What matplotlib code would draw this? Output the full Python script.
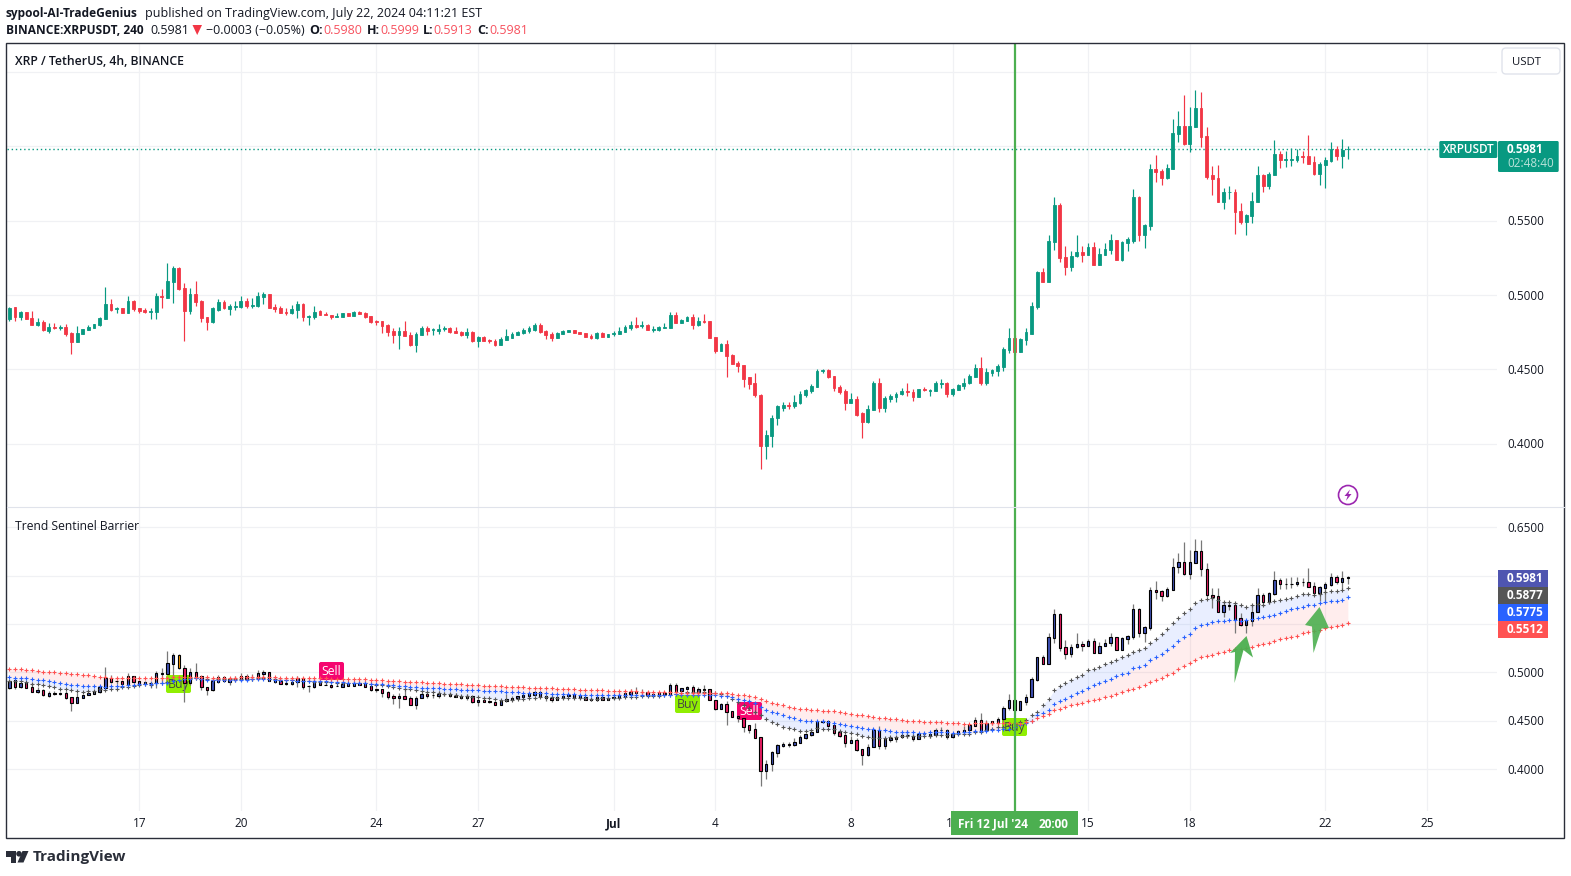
import matplotlib
matplotlib.use("Agg")
import matplotlib.pyplot as plt
from matplotlib.patches import FancyBboxPatch, Polygon, Rectangle, Circle

plt.rcParams['font.family'] = ['Open Sans', 'DejaVu Sans']

# 4h candles, first one is Jun 13
opens = [
    .4838,.4917,.4851,.4885,.4845,.4797,.4818,.4757,.4784,.4777,
    .4784,.4743,.4682,.4736,.4764,.4777,.4797,.4838,.4939,.4908,
    .4912,.4878,.4959,.4912,.4899,.4887,.4885,.4993,.4980,.5088,
    .5182,.5047,.4892,.5007,.4959,.4851,.4818,.4899,.4953,.4905,
    .4921,.4917,.4959,.4926,.4926,.4986,.5007,.4919,.4912,.4885,
    .4878,.4899,.4939,.4854,.4851,.4892,.4872,.4865,.4854,.4851,
    .4878,.4858,.4885,.4878,.4858,.4827,.4824,.4797,.4757,.4730,
    .4759,.4732,.4665,.4732,.4779,.4763,.4759,.4772,.4779,.4759,
    .4752,.4732,.4752,.4692,.4719,.4699,.4692,.4665,.4699,.4712,
    .4732,.4746,.4759,.4766,.4799,.4759,.4739,.4712,.4739,.4752,
    .4766,.4752,.4746,.4725,.4712,.4746,.4719,.4739,.4739,.4752,
    .4779,.4799,.4792,.4799,.4766,.4766,.4779,.4779,.4866,.4812,
    .4826,.4853,.4799,.4826,.4826,.4719,.4625,.4672,.4598,.4545,
    .4531,.4451,.4411,.4330,.3982,.4049,.4170,.4243,.4257,.4250,
    .4272,.4326,.4353,.4379,.4489,.4493,.4453,.4379,.4353,.4272,
    .4299,.4205,.4145,.4225,.4406,.4239,.4299,.4313,.4333,.4353,
    .4346,.4313,.4366,.4355,.4353,.4402,.4406,.4333,.4359,.4386,
    .4406,.4446,.4507,.4406,.4473,.4487,.4513,.4627,.4714,.4614,
    .4694,.4741,.4922,.5156,.5089,.5357,.5605,.5257,.5190,.5261,
    .5288,.5268,.5321,.5201,.5268,.5301,.5368,.5234,.5348,.5362,
    .5656,.5402,.5462,.5850,.5837,.5790,.5850,.6085,.6138,.6018,
    .6132,.6259,.6071,.5804,.5790,.5623,.5690,.5696,.5563,.5489,
    .5529,.5623,.5804,.5730,.5810,.5951,.5911,.5911,.5911,.5938,
    .5938,.5897,.5817,.5877,.5904,.5984,.5938,.5980,
]
highs = [
    .4917,.4917,.4892,.4885,.4892,.4845,.4831,.4811,.4811,.4797,
    .4804,.4750,.4791,.4770,.4797,.4804,.4851,.5054,.4973,.4919,
    .4912,.4993,.4966,.4912,.4912,.4912,.5014,.5041,.5216,.5196,
    .5189,.5081,.5047,.5095,.4964,.4851,.4919,.4973,.4966,.4939,
    .4959,.4993,.4980,.4980,.5020,.5020,.5007,.4939,.4926,.4912,
    .4932,.4959,.4946,.4865,.4926,.4899,.4885,.4865,.4878,.4878,
    .4878,.4892,.4892,.4885,.4858,.4833,.4824,.4804,.4777,.4784,
    .4826,.4752,.4752,.4792,.4792,.4779,.4806,.4792,.4786,.4786,
    .4759,.4779,.4759,.4725,.4725,.4705,.4705,.4719,.4772,.4752,
    .4759,.4779,.4792,.4812,.4812,.4766,.4752,.4752,.4766,.4766,
    .4766,.4752,.4746,.4739,.4752,.4752,.4739,.4759,.4786,.4799,
    .4826,.4853,.4826,.4806,.4792,.4792,.4812,.4886,.4886,.4839,
    .4859,.4873,.4853,.4873,.4826,.4719,.4679,.4699,.4605,.4558,
    .4531,.4451,.4478,.4335,.4089,.4190,.4257,.4283,.4277,.4324,
    .4353,.4366,.4400,.4500,.4500,.4500,.4453,.4393,.4366,.4339,
    .4319,.4210,.4259,.4420,.4440,.4319,.4333,.4346,.4373,.4406,
    .4366,.4366,.4379,.4366,.4420,.4433,.4413,.4373,.4400,.4440,
    .4467,.4533,.4580,.4507,.4500,.4533,.4647,.4781,.4728,.4708,
    .4781,.4955,.5163,.5183,.5404,.5658,.5618,.5330,.5297,.5402,
    .5328,.5348,.5355,.5315,.5348,.5408,.5368,.5362,.5388,.5710,
    .5663,.5475,.5884,.5944,.5850,.5884,.6185,.6239,.6346,.6266,
    .6379,.6366,.6132,.5871,.5877,.5723,.5730,.5710,.5616,.5542,
    .5696,.5871,.5817,.5830,.6045,.5971,.5971,.5991,.5984,.5971,
    .6078,.5938,.5897,.5931,.6031,.6004,.6051,.5999,
]
lows = [
    .4827,.4824,.4833,.4838,.4797,.4791,.4757,.4743,.4770,.4764,
    .4723,.4601,.4682,.4736,.4764,.4777,.4791,.4838,.4892,.4878,
    .4878,.4878,.4892,.4878,.4878,.4838,.4838,.4912,.4980,.4946,
    .5034,.4689,.4872,.4926,.4818,.4764,.4811,.4892,.4905,.4865,
    .4899,.4912,.4912,.4912,.4919,.4939,.4912,.4885,.4878,.4865,
    .4872,.4845,.4824,.4797,.4838,.4865,.4865,.4838,.4854,.4851,
    .4858,.4858,.4872,.4845,.4811,.4797,.4743,.4723,.4676,.4635,
    .4725,.4658,.4618,.4732,.4732,.4732,.4739,.4759,.4746,.4746,
    .4725,.4712,.4685,.4652,.4692,.4679,.4658,.4665,.4699,.4712,
    .4732,.4739,.4746,.4759,.4746,.4705,.4692,.4712,.4739,.4752,
    .4746,.4739,.4719,.4705,.4705,.4719,.4719,.4725,.4739,.4752,
    .4766,.4779,.4779,.4766,.4752,.4759,.4779,.4779,.4812,.4812,
    .4826,.4772,.4792,.4812,.4712,.4612,.4625,.4451,.4538,.4484,
    .4384,.4371,.4317,.3828,.3895,.3975,.4123,.4223,.4230,.4237,
    .4266,.4313,.4339,.4379,.4473,.4440,.4353,.4333,.4225,.4272,
    .4185,.4038,.4138,.4225,.4212,.4212,.4279,.4279,.4326,.4319,
    .4286,.4313,.4353,.4319,.4353,.4373,.4313,.4319,.4359,.4366,
    .4400,.4446,.4393,.4393,.4453,.4453,.4487,.4607,.4594,.4614,
    .4667,.4741,.4908,.5089,.5089,.5304,.5223,.5136,.5163,.5254,
    .5221,.5268,.5201,.5201,.5268,.5275,.5234,.5228,.5295,.5348,
    .5362,.5315,.5435,.5757,.5737,.5783,.5850,.6031,.6011,.5964,
    .6132,.5998,.5783,.5670,.5623,.5576,.5643,.5408,.5475,.5402,
    .5482,.5623,.5690,.5710,.5804,.5857,.5864,.5871,.5897,.5891,
    .5884,.5810,.5743,.5723,.5897,.5911,.5857,.5913,
]
closes = [
    .4914,.4851,.4885,.4838,.4797,.4818,.4764,.4784,.4775,.4784,
    .4736,.4682,.4743,.4770,.4784,.4804,.4845,.4939,.4899,.4912,
    .4878,.4959,.4905,.4892,.4885,.4892,.4993,.4986,.5095,.5182,
    .5041,.4892,.5007,.4953,.4845,.4818,.4912,.4953,.4912,.4926,
    .4926,.4959,.4926,.4932,.4993,.5007,.4912,.4905,.4878,.4881,
    .4905,.4939,.4851,.4858,.4885,.4865,.4865,.4851,.4858,.4878,
    .4858,.4885,.4872,.4851,.4818,.4820,.4791,.4750,.4730,.4757,
    .4725,.4665,.4739,.4779,.4759,.4770,.4772,.4779,.4752,.4746,
    .4732,.4752,.4692,.4719,.4692,.4692,.4665,.4705,.4725,.4739,
    .4752,.4766,.4779,.4799,.4752,.4732,.4712,.4746,.4759,.4766,
    .4746,.4739,.4719,.4712,.4746,.4719,.4739,.4746,.4759,.4786,
    .4799,.4786,.4799,.4766,.4772,.4786,.4786,.4866,.4812,.4833,
    .4853,.4799,.4826,.4817,.4712,.4625,.4672,.4592,.4538,.4525,
    .4438,.4404,.4324,.3982,.4056,.4176,.4250,.4257,.4250,.4283,
    .4333,.4359,.4386,.4487,.4493,.4446,.4373,.4346,.4272,.4299,
    .4192,.4145,.4232,.4406,.4239,.4306,.4319,.4333,.4353,.4348,
    .4313,.4366,.4359,.4359,.4406,.4406,.4333,.4366,.4393,.4406,
    .4453,.4507,.4406,.4480,.4493,.4520,.4634,.4714,.4614,.4701,
    .4748,.4929,.5156,.5089,.5364,.5605,.5250,.5190,.5263,.5288,
    .5268,.5321,.5201,.5275,.5308,.5368,.5234,.5355,.5375,.5656,
    .5402,.5469,.5850,.5830,.5790,.5857,.6092,.6138,.6018,.6138,
    .6259,.6065,.5797,.5783,.5623,.5696,.5696,.5556,.5489,.5536,
    .5629,.5804,.5730,.5817,.5951,.5911,.5917,.5917,.5938,.5931,
    .5884,.5817,.5884,.5911,.5984,.5938,.5978,.5981,
]

# Trend Sentinel Barrier lines
barrier_gray = [
    .4913,.4913,.4907,.4900,.4882,.4879,.4872,.4858,.4845,.4831,
    .4824,.4813,.4810,.4800,.4803,.4810,.4824,.4817,.4824,.4831,
    .4845,.4851,.4858,.4869,.4879,.4869,.4886,.4893,.4903,.4917,
    .4924,.4934,.4941,.4945,.4934,.4927,.4924,.4927,.4927,.4927,
    .4927,.4927,.4931,.4934,.4938,.4938,.4934,.4927,.4920,.4917,
    .4917,.4913,.4907,.4907,.4900,.4900,.4900,.4896,.4893,.4893,
    .4890,.4893,.4893,.4886,.4876,.4872,.4865,.4858,.4845,.4838,
    .4830,.4825,.4818,.4808,.4800,.4792,.4785,.4778,.4772,.4765,
    .4760,.4755,.4750,.4745,.4738,.4730,.4724,.4718,.4716,.4716,
    .4720,.4724,.4730,.4734,.4740,.4744,.4742,.4738,.4736,.4735,
    .4735,.4733,.4730,.4728,.4728,.4730,.4730,.4733,.4735,.4740,
    .4746,.4750,.4752,.4755,.4758,.4760,.4765,.4770,.4780,.4785,
    .4795,.4796,.4797,.4795,.4790,.4785,.4776,.4755,.4728,.4697,
    .4662,.4628,.4593,.4555,.4514,.4486,.4466,.4438,.4428,.4411,
    .4397,.4397,.4404,.4424,.4411,.4411,.4411,.4397,.4383,.4376,
    .4362,.4342,.4328,.4324,.4318,.4318,.4328,.4335,.4342,.4342,
    .4342,.4342,.4342,.4342,.4352,.4352,.4352,.4359,.4359,.4359,
    .4366,.4380,.4383,.4404,.4411,.4431,.4431,.4455,.4473,.4490,
    .4507,.4559,.4586,.4662,.4724,.4814,.4859,.4886,.4921,.4955,
    .4976,.5021,.5031,.5052,.5083,.5103,.5131,.5159,.5179,.5214,
    .5228,.5255,.5300,.5348,.5393,.5445,.5507,.5559,.5610,.5652,
    .5721,.5748,.5758,.5765,.5745,.5727,.5724,.5721,.5693,.5679,
    .5693,.5707,.5696,.5724,.5741,.5752,.5758,.5772,.5789,.5807,
    .5807,.5800,.5810,.5827,.5838,.5845,.5852,.5877,
]
barrier_blue = [
    .4951,.4944,.4938,.4938,.4931,.4924,.4917,.4910,.4900,.4893,
    .4882,.4872,.4869,.4862,.4855,.4855,.4855,.4851,.4855,.4862,
    .4862,.4865,.4869,.4876,.4876,.4879,.4886,.4886,.4893,.4907,
    .4920,.4931,.4934,.4938,.4927,.4920,.4920,.4920,.4920,.4920,
    .4920,.4920,.4924,.4927,.4931,.4931,.4927,.4920,.4920,.4920,
    .4920,.4913,.4913,.4910,.4910,.4910,.4907,.4903,.4900,.4896,
    .4893,.4893,.4893,.4889,.4882,.4879,.4876,.4869,.4865,.4858,
    .4855,.4850,.4846,.4843,.4840,.4837,.4833,.4830,.4827,.4824,
    .4822,.4819,.4816,.4813,.4810,.4807,.4804,.4802,.4799,.4796,
    .4793,.4790,.4788,.4786,.4784,.4782,.4780,.4778,.4776,.4774,
    .4772,.4770,.4768,.4766,.4765,.4764,.4763,.4762,.4762,.4762,
    .4763,.4764,.4765,.4766,.4767,.4768,.4769,.4770,.4771,.4770,
    .4770,.4769,.4768,.4767,.4765,.4764,.4759,.4755,.4742,.4728,
    .4717,.4704,.4683,.4638,.4611,.4590,.4576,.4555,.4542,.4524,
    .4507,.4500,.4493,.4493,.4493,.4486,.4480,.4466,.4459,.4445,
    .4438,.4424,.4411,.4411,.4404,.4404,.4393,.4386,.4386,.4383,
    .4383,.4376,.4376,.4380,.4383,.4383,.4383,.4376,.4376,.4383,
    .4386,.4390,.4390,.4397,.4404,.4404,.4411,.4411,.4431,.4452,
    .4473,.4500,.4555,.4583,.4607,.4673,.4700,.4724,.4755,.4783,
    .4807,.4841,.4869,.4886,.4910,.4928,.4962,.4979,.4997,.5045,
    .5059,.5079,.5128,.5159,.5186,.5231,.5276,.5328,.5362,.5397,
    .5455,.5490,.5503,.5517,.5527,.5534,.5541,.5541,.5534,.5541,
    .5548,.5559,.5569,.5583,.5596,.5617,.5631,.5652,.5662,.5679,
    .5693,.5700,.5714,.5724,.5734,.5741,.5752,.5775,
]
barrier_red = [
    .5038,.5034,.5030,.5027,.5023,.5018,.5008,.5003,.5000,.4996,
    .4992,.4985,.4981,.4975,.4969,.4962,.4952,.4949,.4945,.4942,
    .4938,.4938,.4938,.4938,.4938,.4938,.4938,.4941,.4945,.4948,
    .4955,.4955,.4955,.4955,.4952,.4948,.4945,.4945,.4945,.4945,
    .4945,.4948,.4948,.4948,.4952,.4952,.4952,.4952,.4945,.4945,
    .4941,.4941,.4938,.4938,.4938,.4938,.4938,.4934,.4934,.4934,
    .4934,.4934,.4930,.4927,.4924,.4920,.4917,.4913,.4913,.4910,
    .4905,.4902,.4898,.4895,.4892,.4889,.4886,.4883,.4880,.4878,
    .4875,.4872,.4869,.4866,.4863,.4860,.4857,.4855,.4852,.4849,
    .4847,.4844,.4842,.4839,.4837,.4835,.4833,.4830,.4828,.4826,
    .4824,.4822,.4820,.4818,.4816,.4814,.4812,.4810,.4808,.4806,
    .4804,.4802,.4800,.4798,.4796,.4795,.4794,.4793,.4792,.4791,
    .4790,.4790,.4789,.4788,.4787,.4785,.4783,.4783,.4776,.4769,
    .4762,.4755,.4745,.4721,.4704,.4686,.4673,.4659,.4645,.4631,
    .4624,.4617,.4614,.4607,.4604,.4600,.4597,.4590,.4583,.4569,
    .4562,.4555,.4545,.4535,.4524,.4524,.4521,.4514,.4511,.4500,
    .4493,.4493,.4486,.4483,.4483,.4483,.4476,.4473,.4473,.4462,
    .4469,.4473,.4473,.4473,.4473,.4473,.4473,.4480,.4473,.4466,
    .4486,.4500,.4528,.4552,.4569,.4611,.4624,.4642,.4659,.4676,
    .4683,.4707,.4711,.4728,.4748,.4759,.4779,.4797,.4814,.4831,
    .4852,.4869,.4900,.4917,.4941,.4969,.4997,.5035,.5062,.5097,
    .5128,.5159,.5169,.5183,.5197,.5210,.5228,.5238,.5245,.5248,
    .5262,.5286,.5293,.5307,.5321,.5341,.5352,.5369,.5379,.5403,
    .5417,.5424,.5438,.5455,.5469,.5476,.5490,.5512,
]

# date ticks: candle index, label
tick_idx = [23, 41, 65, 83, 107, 125, 149, 167, 191, 209, 233, 251]
tick_labels = ['17', '20', '24', '27', 'Jul', '4', '8', '11', '15', '18', '22', '25']
top_levels = [0.40, 0.45, 0.50, 0.55, 0.60, 0.65]
top_level_labels = ['0.4000', '0.4500', '0.5000', '0.5500']
bottom_levels = [0.40, 0.45, 0.50, 0.55, 0.60, 0.65]
bottom_level_labels = ['0.4000', '0.4500', '0.5000', '0.6500']
last_price = 0.5981
cursor_idx = 178
orange_idx = 30

GREEN = '#089981'
RED = '#f23645'
GRID = '#f0f1f4'
TEXT = '#131722'
W, H = 1571, 876

fig = plt.figure(figsize=(W / 100, H / 100), dpi=100, facecolor='white')


def px_axes(left, top, right, bottom, z):
    return fig.add_axes([left / W, 1 - bottom / H, (right - left) / W, (bottom - top) / H],
                        zorder=z, facecolor='none')


# pixel layers, one behind the panes and one in front
back = px_axes(0, 0, W, H, 0)
front = px_axes(0, 0, W, H, 5)
for a in (back, front):
    a.set_xlim(0, W)
    a.set_ylim(H, 0)
    a.axis('off')

ax1 = px_axes(7, 43, 1497, 507, 2)
ax2 = px_axes(7, 507, 1497, 811, 2)
xlim = (-0.41, 263.4)
for ax in (ax1, ax2):
    ax.set_xlim(*xlim)
    ax.set_xticks(tick_idx)
    ax.grid(True, color=GRID, lw=0.9)
    ax.set_axisbelow(True)
    ax.tick_params(length=0, labelbottom=False, labelleft=False)
    for s in ax.spines.values():
        s.set_visible(False)
ax1.set_ylim(0.3574, 0.6695)
ax1.set_yticks(top_levels)
ax2.set_ylim(0.3566, 0.6710)
ax2.set_yticks(bottom_levels)

xs = list(range(len(closes)))
bottoms = [min(o, c) for o, c in zip(opens, closes)]
heights = [abs(c - o) for o, c in zip(opens, closes)]

# price pane
top_cols = [GREEN if c >= o else RED for o, c in zip(opens, closes)]
ax1.vlines(xs, lows, highs, colors=top_cols, lw=0.85, zorder=3)
ax1.bar(xs, heights, bottom=bottoms, width=0.5, color=top_cols, edgecolor=top_cols, lw=0.6, zorder=4)
ax1.axhline(last_price, color=GREEN, lw=1, ls=(0, (1, 2)), zorder=2)

# indicator pane
ax2.fill_between(xs, barrier_red, barrier_blue, color='#ff5252', alpha=0.1, lw=0, zorder=1)
ax2.fill_between(xs, barrier_blue, barrier_gray, color='#2962ff', alpha=0.1, lw=0, zorder=1)
bot_cols = ['#3f51b5' if c >= o else '#e91e63' for o, c in zip(opens, closes)]
bot_cols[orange_idx] = '#ff9800'
ax2.vlines(xs, lows, highs, colors='#787878', lw=0.9, zorder=3)
ax2.bar(xs, heights, bottom=bottoms, width=0.42, color=bot_cols, edgecolor='black', lw=0.8, zorder=4)
ax2.plot(xs, barrier_gray, '+', color='#555555', ms=2.3, mew=0.8, zorder=5)
ax2.plot(xs, barrier_blue, '+', color='#2962ff', ms=2.3, mew=0.8, zorder=5)
ax2.plot(xs, barrier_red, '+', color='#ff5252', ms=2.3, mew=0.8, zorder=5)

for ax in (ax1, ax2):
    ax.axvline(cursor_idx, color='#4caf50', lw=1.6, zorder=6)


def label(a, x, y, s, size=8.5, color=TEXT, weight='normal', ha='left', va='center', **kw):
    a.text(x, y + 1.2, s, fontsize=size, color=color, fontweight=weight, ha=ha, va=va, **kw)


def box(a, x0, y0, x1, y1, color, r=0.0, **kw):
    if r:
        a.add_patch(FancyBboxPatch((x0 + r, y0 + r), x1 - x0 - 2 * r, y1 - y0 - 2 * r,
                                   boxstyle='round,pad=%g,rounding_size=%g' % (r, r),
                                   fc=color, lw=kw.pop('lw', 0), **kw))
    else:
        a.add_patch(Rectangle((x0, y0), x1 - x0, y1 - y0, fc=color, lw=0, **kw))


# signal badges sit over the grid and the fills but under the candles
px = back.transData
for x0, y0 in [(166, 675), (675, 695), (1002, 718)]:
    box(ax2, x0, y0, x0 + 25, y0 + 18, '#90ee02', r=2, transform=px, zorder=2)
    label(ax2, x0 + 12.5, y0 + 8, 'Buy', size=8.8, color='#454545', ha='center', transform=px, zorder=2.5)
for x0, y0 in [(319, 662), (737, 702)]:
    box(ax2, x0, y0, x0 + 25, y0 + 18, '#f5066f', r=2, transform=px, zorder=2)
    label(ax2, x0 + 12.5, y0 + 8, 'Sell', size=8.8, color='white', ha='center', transform=px, zorder=2.5)

# frame
front.add_patch(Rectangle((6.5, 43), 1557.5, 795, fc='none', ec='#2a2e39', lw=1))
front.plot([7, 1564], [507, 507], color='#e0e3eb', lw=0.8)

# header
label(front, 6, 12, 'sypool-AI-TradeGenius', size=8.6, weight='bold')
label(front, 144.6, 12, 'published on TradingView.com, July 22, 2024 04:11:21 EST', size=9)
label(front, 6, 29, 'BINANCE:XRPUSDT, 240', size=8.6, weight='bold')
label(front, 150, 29, '0.5981', size=9)
front.add_patch(Polygon([(192.5, 25), (202, 25), (197.2, 35)], fc='#f23645', lw=0))
label(front, 206, 29, '−0.0003 (−0.05%)', size=9)
for name, x_name, val, x_val in [('O:', 309, '0.5980', 323), ('H:', 367, '0.5999', 380),
                                 ('L:', 423, '0.5913', 433), ('C:', 477, '0.5981', 489)]:
    label(front, x_name, 29, name, size=9, weight='bold')
    label(front, x_val, 29, val, size=9, color='#f7525f')

label(front, 15, 60, 'XRP / TetherUS, 4h, BINANCE', size=8.8, weight='semibold')
label(front, 15, 525, 'Trend Sentinel Barrier', size=8.7)

# price scale texts
for lev, s in zip([0.40, 0.45, 0.50, 0.55], top_level_labels):
    y = 43 + (0.6695 - lev) / (0.6695 - 0.3574) * 464
    label(front, 1507, y, s)
for lev, s in zip([0.40, 0.45, 0.50, 0.65], bottom_level_labels):
    y = 507 + (0.6710 - lev) / (0.6710 - 0.3566) * 304
    label(front, 1507, y, s)

box(front, 1502, 48, 1560, 74, 'white', r=4, ec='#e0e3eb', lw=1)
label(front, 1512, 61.5, 'USDT', size=8.2)
box(front, 1439.3, 141, 1497.3, 158, GREEN, r=1.5)
label(front, 1468.3, 148.5, 'XRPUSDT', size=8.4, color='white', ha='center', weight='semibold')
box(front, 1498, 141, 1558.7, 172, GREEN, r=1.5)
label(front, 1507, 148.5, '0.5981', color='white', weight='bold')
label(front, 1507, 162.5, '02:48:40', color='#b9e3da')

for i, (s, c) in enumerate([('0.5981', '#4f55b0'), ('0.5877', '#555555'),
                            ('0.5775', '#2962ff'), ('0.5512', '#ff5252')]):
    y0 = 570 + 17 * i
    box(front, 1498, y0, 1548, y0 + 17, c)
    label(front, 1507, y0 + 7.5, s, color='white', weight='bold')

# time scale
for idx, s in zip(tick_idx, tick_labels):
    x = 7 + (idx - xlim[0]) / (xlim[1] - xlim[0]) * 1490
    label(back, x, 822.5, s, ha='center', weight='bold' if s == 'Jul' else 'normal')
box(front, 951, 811, 1078, 835, '#4caf50')
label(front, 958, 823, "Fri 12 Jul '24", color='white', weight='bold')
label(front, 1039, 823, '20:00', color='white', weight='bold')

# hand drawn arrows
front.add_patch(Polygon([(1246.5, 636), (1253, 657.5), (1243.5, 650), (1234.5, 683),
                         (1235, 652), (1230, 653)], fc='#4caf50', lw=0, alpha=0.95))
front.add_patch(Polygon([(1319.5, 607), (1329, 628), (1321.5, 628.5), (1313.5, 653),
                         (1312, 626.5), (1305, 625)], fc='#4caf50', lw=0, alpha=0.9))

# lightning icon
front.add_patch(Circle((1348, 495), 9.5, fc='white', ec='#9c27b0', lw=1.2))
front.add_patch(Polygon([(1350, 489.5), (1344.5, 496), (1347.6, 496), (1346, 500.8),
                         (1351.5, 494), (1348.4, 494)], fc='#9c27b0', lw=0))

# logo
front.add_patch(Polygon([(6, 851), (16.5, 851), (16.5, 862.5), (11, 862.5), (11, 856.5), (6, 856.5)],
                        fc='#2a2e39', lw=0))
front.add_patch(Circle((19, 853.8), 2.8, fc='#2a2e39', lw=0))
front.add_patch(Polygon([(22.5, 851), (28.5, 851), (23.5, 862.5), (17.5, 862.5)], fc='#2a2e39', lw=0))
label(front, 33, 855.5, 'TradingView', size=11, color='#2a2e39', weight='bold')

fig.savefig('out.png', dpi=100)
